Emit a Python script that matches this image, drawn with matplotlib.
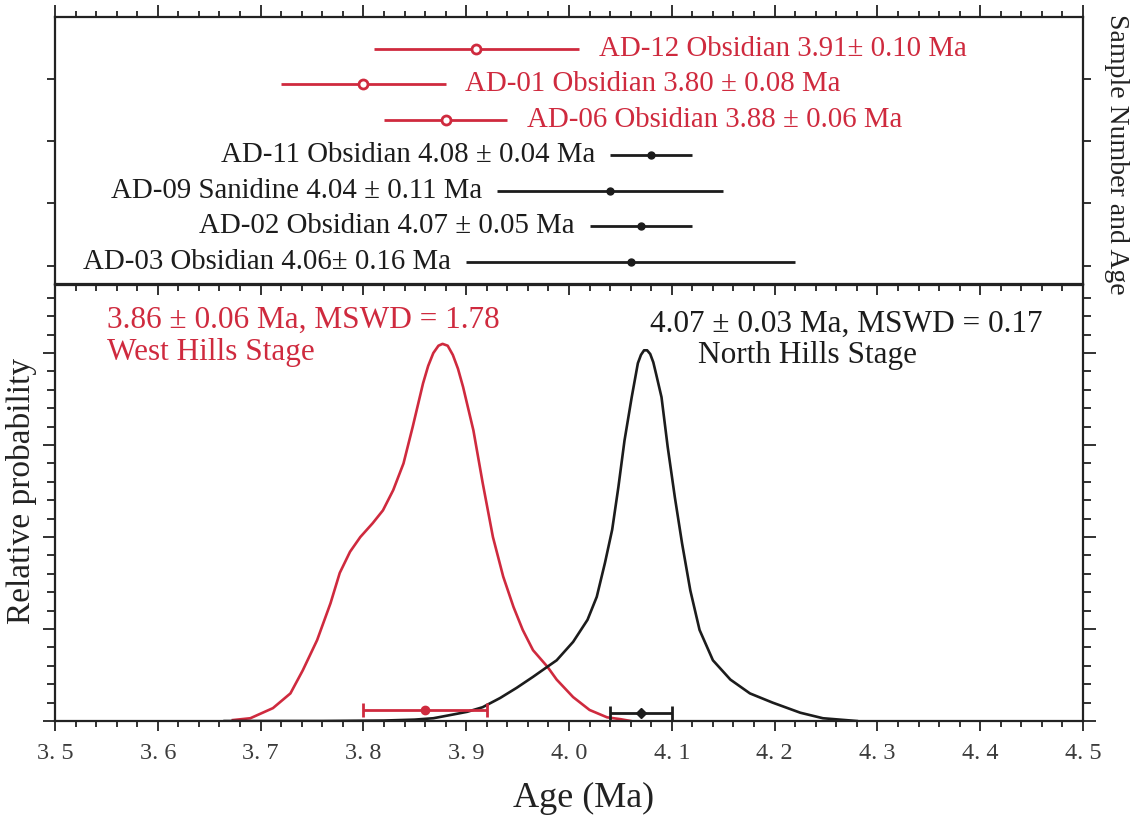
import numpy as np
import matplotlib
matplotlib.use('Agg')
import matplotlib.pyplot as plt
from matplotlib.ticker import MultipleLocator, FuncFormatter

plt.rcParams['font.family'] = ['Liberation Serif', 'DejaVu Serif']

RED = '#cf2a3e'
BLACK = '#1c1c1c'

# --- single-sample ages (top panel), listed top to bottom ---
sample_labels = ['AD-12 Obsidian 3.91\u00b1 0.10 Ma',
                 'AD-01 Obsidian 3.80 \u00b1 0.08 Ma',
                 'AD-06 Obsidian 3.88 \u00b1 0.06 Ma',
                 'AD-11 Obsidian 4.08 \u00b1 0.04 Ma',
                 'AD-09 Sanidine 4.04 \u00b1 0.11 Ma',
                 'AD-02 Obsidian 4.07 \u00b1 0.05 Ma',
                 'AD-03 Obsidian 4.06\u00b1 0.16 Ma']
sample_age = [3.91, 3.80, 3.88, 4.08, 4.04, 4.07, 4.06]
sample_err = [0.10, 0.08, 0.06, 0.04, 0.11, 0.05, 0.16]
sample_stage = ['west', 'west', 'west', 'north', 'north', 'north', 'north']

# --- probability density curves ---
west_age = [3.673, 3.690, 3.712, 3.729, 3.741, 3.755, 3.768, 3.777, 3.787, 3.797,
            3.809, 3.819, 3.829, 3.839, 3.848, 3.858, 3.863, 3.868, 3.873, 3.877,
            3.882, 3.887, 3.892, 3.897, 3.907, 3.916, 3.926, 3.936, 3.946, 3.955,
            3.965, 3.979, 3.988, 4.004, 4.020, 4.037, 4.050, 4.060]
west_prob = [0.01, 0.03, 0.14, 0.30, 0.55, 0.88, 1.28, 1.61, 1.84, 2.00,
             2.15, 2.29, 2.51, 2.80, 3.20, 3.67, 3.86, 4.00, 4.08, 4.10,
             4.08, 3.98, 3.83, 3.63, 3.16, 2.59, 2.00, 1.57, 1.24, 0.99,
             0.77, 0.59, 0.45, 0.26, 0.12, 0.04, 0.02, 0.0]

north_age = [3.665, 3.760, 3.820, 3.850, 3.868, 3.887, 3.901, 3.916, 3.933, 3.949,
             3.965, 3.979, 3.988, 4.004, 4.018, 4.027, 4.035, 4.042, 4.048, 4.054,
             4.061, 4.067, 4.070, 4.073, 4.076, 4.079, 4.082, 4.085, 4.090, 4.096,
             4.103, 4.110, 4.118, 4.127, 4.140, 4.157, 4.176, 4.198, 4.225, 4.247,
             4.280]
north_prob = [0.0, 0.0, 0.005, 0.015, 0.03, 0.07, 0.10, 0.15, 0.25, 0.36,
              0.48, 0.59, 0.66, 0.86, 1.10, 1.35, 1.72, 2.08, 2.54, 3.05,
              3.52, 3.89, 3.98, 4.03, 4.03, 3.99, 3.90, 3.76, 3.52, 2.98,
              2.43, 1.93, 1.42, 0.99, 0.66, 0.45, 0.30, 0.20, 0.09, 0.03,
              0.0]

# weighted mean ages
mean_age = [3.86, 4.07]
mean_err = [0.06, 0.03]
mean_text = ['3.86 \u00b1 0.06 Ma, MSWD = 1.78', '4.07 \u00b1 0.03 Ma, MSWD = 0.17']
stage_names = ['West Hills Stage', 'North Hills Stage']

W, H = 1140, 817
fig = plt.figure(figsize=(W / 100, H / 100), dpi=100)
ax_top = fig.add_axes([55 / W, 1 - 284 / H, 1028 / W, 267 / H])
ax_bot = fig.add_axes([55 / W, 1 - 721 / H, 1028 / W, 436 / H])

for ax in (ax_top, ax_bot):
    ax.set_xlim(3.5, 4.5)
    for s in ax.spines.values():
        s.set_linewidth(1.6)
        s.set_color('#222222')
    ax.xaxis.set_major_locator(MultipleLocator(0.1))
    ax.xaxis.set_minor_locator(MultipleLocator(0.02))

# ---------- top panel ----------
n = len(sample_age)
rows = np.arange(n, 0, -1)
ax_top.set_ylim(0.38, 7.9)
for lab, age, err, stage, y in zip(sample_labels, sample_age, sample_err, sample_stage, rows):
    if stage == 'west':
        ax_top.errorbar(age, y, xerr=err, fmt='o', color=RED, ecolor=RED, elinewidth=2.0,
                        capsize=0, ms=6.5, mfc='white', mec=RED, mew=2.0)
        ax_top.annotate(lab, xy=(age + err, y), xytext=(14, 0), textcoords='offset points',
                        ha='left', va='center', fontsize=20.8, color=RED)
    else:
        ax_top.errorbar(age, y, xerr=err, fmt='o', color=BLACK, ecolor=BLACK, elinewidth=2.0,
                        capsize=0, ms=5, mfc=BLACK, mec=BLACK)
        ax_top.annotate(lab, xy=(age - err, y), xytext=(-11, 0), textcoords='offset points',
                        ha='right', va='center', fontsize=20.8, color=BLACK)

ax_top.set_yticks(np.arange(7.9, 0.38, -1.75)[1:])
ax_top.tick_params(axis='x', which='both', top=True, bottom=False, labeltop=False,
                   labelbottom=False, direction='out', width=1.3, color='#222222')
ax_top.tick_params(axis='x', which='major', length=9)
ax_top.tick_params(axis='x', which='minor', length=4.5)
ax_top.tick_params(axis='y', which='both', left=True, right=True, labelleft=False,
                   direction='out', length=6, width=1.3, color='#222222')

# ---------- bottom panel ----------
ax_bot.set_ylim(0, 4.74)
ax_bot.plot(west_age, west_prob, color=RED, lw=1.9, solid_joinstyle='round')
ax_bot.plot(north_age, north_prob, color=BLACK, lw=1.9, solid_joinstyle='round')
ax_bot.errorbar(mean_age[0], 0.12, xerr=mean_err[0], fmt='o', color=RED, ecolor=RED,
                elinewidth=2.0, capsize=5, capthick=2.0, ms=6)
ax_bot.errorbar(mean_age[1], 0.09, xerr=mean_err[1], fmt='D', color=BLACK, ecolor=BLACK,
                elinewidth=2.0, capsize=5, capthick=2.0, ms=5)

ax_bot.yaxis.set_major_locator(MultipleLocator(1))
ax_bot.yaxis.set_minor_locator(MultipleLocator(0.2))
ax_bot.tick_params(axis='y', which='both', left=True, right=True, labelleft=False,
                   direction='out', width=1.3, color='#222222')
ax_bot.tick_params(axis='y', which='major', length=9)
ax_bot.tick_params(axis='y', which='minor', length=5.5)
ax_bot.tick_params(axis='x', which='both', top=True, bottom=True, width=1.3, color='#222222')
ax_bot.tick_params(axis='x', which='major', direction='out', length=7, pad=9,
                   labelsize=17.5, labelcolor='#3c3c3c')
ax_bot.tick_params(axis='x', which='minor', direction='out', length=4)
# ticks on the shared boundary point into the lower panel
for t in ax_bot.xaxis.get_major_ticks() + ax_bot.xaxis.get_minor_ticks():
    t.tick2line.set_marker(3)
ax_bot.xaxis.set_major_formatter(FuncFormatter(
    lambda v, p: f'{v:.1f}'.replace('.', '. ')))

# ---------- text ----------
fig.text(584 / W, 1 - 807 / H, 'Age (Ma)', ha='center', va='baseline', fontsize=26,
         color='#222222')
fig.text(22 / W, 1 - 491 / H, 'Relative probability', rotation=90, ha='center',
         va='center', fontsize=24, color='#222222')
fig.text(1117 / W, 1 - 154 / H, 'Sample Number and Age', rotation=270, ha='center',
         va='center', fontsize=20, color='#222222')

fig.text(107 / W, 1 - 328 / H, mean_text[0], ha='left', va='baseline', fontsize=22.5, color=RED)
fig.text(107 / W, 1 - 360 / H, stage_names[0], ha='left', va='baseline', fontsize=22.5, color=RED)
fig.text(650 / W, 1 - 332 / H, mean_text[1], ha='left', va='baseline', fontsize=22.5, color=BLACK)
fig.text(698 / W, 1 - 363 / H, stage_names[1], ha='left', va='baseline', fontsize=22.5, color=BLACK)

fig.savefig('out.png', dpi=100)
